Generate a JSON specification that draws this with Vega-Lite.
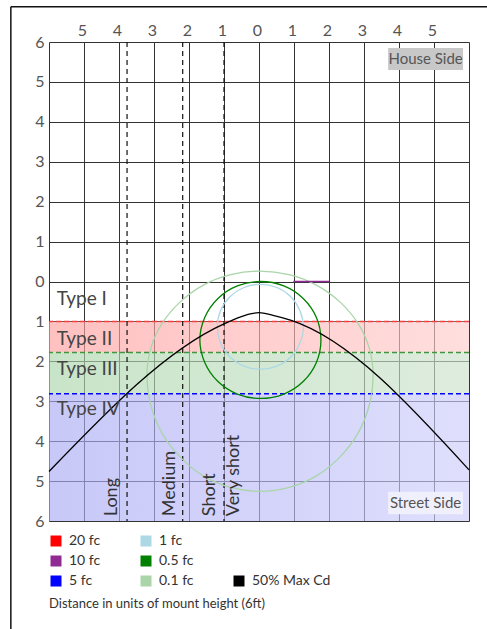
{
  "$schema": "https://vega.github.io/schema/vega-lite/v6.json",
  "width": 420,
  "height": 479,
  "autosize": {"type": "none"},
  "padding": {"left": 49, "top": 42, "right": 18, "bottom": 108},
  "background": "white",
  "config": {
    "view": {"stroke": null},
    "font": "Lato",
    "axis": {"labelFont": "Lato", "labelFontSize": 16, "labelColor": "#555", "ticks": false, "domain": false, "grid": true, "gridColor": "#333", "gridWidth": 1, "gridOpacity": 1, "title": null, "labelOverlap": false},
    "legend": {"labelFont": "Lato", "titleFont": "Lato"}
  },
  "datasets": {
    "frame": [{"x1": -7.09, "x2": 6.9, "y1": 6.88, "y2": -8.9}],
    "bands": [
      {"type": "II", "y1": -1, "y2": -1.78},
      {"type": "III", "y1": -1.78, "y2": -2.81},
      {"type": "IV", "y1": -2.81, "y2": -6}
    ],
    "vdash": [{"x": -1}, {"x": -2.18}, {"x": -3.77}],
    "contours": [
      {"level": "0.1 fc", "i": 0, "x": 0.03, "y": 0.26},
      {"level": "0.1 fc", "i": 1, "x": 0.86, "y": 0.17},
      {"level": "0.1 fc", "i": 2, "x": 1.64, "y": -0.09},
      {"level": "0.1 fc", "i": 3, "x": 2.31, "y": -0.51},
      {"level": "0.1 fc", "i": 4, "x": 2.83, "y": -1.05},
      {"level": "0.1 fc", "i": 5, "x": 3.15, "y": -1.67},
      {"level": "0.1 fc", "i": 6, "x": 3.26, "y": -2.35},
      {"level": "0.1 fc", "i": 7, "x": 3.15, "y": -3.1},
      {"level": "0.1 fc", "i": 8, "x": 2.83, "y": -3.8},
      {"level": "0.1 fc", "i": 9, "x": 2.31, "y": -4.4},
      {"level": "0.1 fc", "i": 10, "x": 1.64, "y": -4.87},
      {"level": "0.1 fc", "i": 11, "x": 0.86, "y": -5.16},
      {"level": "0.1 fc", "i": 12, "x": 0.03, "y": -5.26},
      {"level": "0.1 fc", "i": 13, "x": -0.81, "y": -5.16},
      {"level": "0.1 fc", "i": 14, "x": -1.59, "y": -4.87},
      {"level": "0.1 fc", "i": 15, "x": -2.25, "y": -4.4},
      {"level": "0.1 fc", "i": 16, "x": -2.77, "y": -3.8},
      {"level": "0.1 fc", "i": 17, "x": -3.09, "y": -3.1},
      {"level": "0.1 fc", "i": 18, "x": -3.2, "y": -2.35},
      {"level": "0.1 fc", "i": 19, "x": -3.09, "y": -1.67},
      {"level": "0.1 fc", "i": 20, "x": -2.77, "y": -1.05},
      {"level": "0.1 fc", "i": 21, "x": -2.25, "y": -0.51},
      {"level": "0.1 fc", "i": 22, "x": -1.59, "y": -0.09},
      {"level": "0.1 fc", "i": 23, "x": -0.81, "y": 0.17},
      {"level": "0.5 fc", "i": 0, "x": 0.04, "y": 0},
      {"level": "0.5 fc", "i": 1, "x": 0.71, "y": -0.11},
      {"level": "0.5 fc", "i": 2, "x": 1.27, "y": -0.43},
      {"level": "0.5 fc", "i": 3, "x": 1.64, "y": -0.9},
      {"level": "0.5 fc", "i": 4, "x": 1.77, "y": -1.46},
      {"level": "0.5 fc", "i": 5, "x": 1.64, "y": -2.03},
      {"level": "0.5 fc", "i": 6, "x": 1.27, "y": -2.5},
      {"level": "0.5 fc", "i": 7, "x": 0.71, "y": -2.82},
      {"level": "0.5 fc", "i": 8, "x": 0.04, "y": -2.93},
      {"level": "0.5 fc", "i": 9, "x": -0.62, "y": -2.82},
      {"level": "0.5 fc", "i": 10, "x": -1.18, "y": -2.5},
      {"level": "0.5 fc", "i": 11, "x": -1.55, "y": -2.03},
      {"level": "0.5 fc", "i": 12, "x": -1.69, "y": -1.46},
      {"level": "0.5 fc", "i": 13, "x": -1.55, "y": -0.9},
      {"level": "0.5 fc", "i": 14, "x": -1.18, "y": -0.43},
      {"level": "0.5 fc", "i": 15, "x": -0.62, "y": -0.11},
      {"level": "1 fc", "i": 0, "x": 0.04, "y": -0.07},
      {"level": "1 fc", "i": 1, "x": 0.51, "y": -0.15},
      {"level": "1 fc", "i": 2, "x": 0.91, "y": -0.38},
      {"level": "1 fc", "i": 3, "x": 1.17, "y": -0.73},
      {"level": "1 fc", "i": 4, "x": 1.27, "y": -1.14},
      {"level": "1 fc", "i": 5, "x": 1.17, "y": -1.54},
      {"level": "1 fc", "i": 6, "x": 0.91, "y": -1.89},
      {"level": "1 fc", "i": 7, "x": 0.51, "y": -2.12},
      {"level": "1 fc", "i": 8, "x": 0.04, "y": -2.2},
      {"level": "1 fc", "i": 9, "x": -0.43, "y": -2.12},
      {"level": "1 fc", "i": 10, "x": -0.83, "y": -1.89},
      {"level": "1 fc", "i": 11, "x": -1.1, "y": -1.54},
      {"level": "1 fc", "i": 12, "x": -1.19, "y": -1.14},
      {"level": "1 fc", "i": 13, "x": -1.1, "y": -0.73},
      {"level": "1 fc", "i": 14, "x": -0.83, "y": -0.38},
      {"level": "1 fc", "i": 15, "x": -0.43, "y": -0.15},
      {"level": "10 fc", "i": 0, "x": 0.98, "y": 0},
      {"level": "10 fc", "i": 1, "x": 2.0, "y": 0}
    ],
    "maxcd": [
      {"level": "50% Max Cd", "x": -6, "y": -4.76},
      {"level": "50% Max Cd", "x": -1, "y": -1.06},
      {"level": "50% Max Cd", "x": -0.5, "y": -0.88},
      {"level": "50% Max Cd", "x": -0.25, "y": -0.81},
      {"level": "50% Max Cd", "x": 0, "y": -0.78},
      {"level": "50% Max Cd", "x": 0.4, "y": -0.85},
      {"level": "50% Max Cd", "x": 0.9, "y": -0.97},
      {"level": "50% Max Cd", "x": 6, "y": -4.72}
    ],
    "types": [
      {"label": "Type I", "x": -5.78, "y": -0.44},
      {"label": "Type II", "x": -5.78, "y": -1.45},
      {"label": "Type III", "x": -5.78, "y": -2.18},
      {"label": "Type IV", "x": -5.78, "y": -3.2}
    ],
    "vlabels": [
      {"label": "Long", "x": -3.94, "y": -5.88},
      {"label": "Medium", "x": -2.29, "y": -5.88},
      {"label": "Short", "x": -1.14, "y": -5.88},
      {"label": "Very short", "x": -0.46, "y": -5.88}
    ],
    "sides": [
      {"label": "House Side", "side": "house", "x1": 3.69, "x2": 5.83, "xm": 4.76, "y1": 5.85, "y2": 5.3, "ym": 5.57},
      {"label": "Street Side", "side": "street", "x1": 3.69, "x2": 5.83, "xm": 4.76, "y1": -5.27, "y2": -5.83, "ym": -5.55}
    ]
  },
  "layer": [
    {
      "data": {"name": "bands"},
      "transform": [{"filter": "datum.type == 'II'"}],
      "mark": {"type": "rect", "opacity": 0.65, "color": {"gradient": "linear", "x1": 0, "y1": 0, "x2": 1, "y2": 0, "stops": [{"offset": 0, "color": "#ff9e9e"}, {"offset": 1, "color": "#ffcdcd"}]}},
      "encoding": {
        "x": {"datum": -6, "type": "quantitative", "scale": {"domain": [-6, 6], "nice": false, "zero": false}, "axis": {"orient": "top", "grid": true, "values": [-6, -5, -4, -3, -2, -1, 0, 1, 2, 3, 4, 5, 6], "labelExpr": "abs(datum.value) == 6 ? '' : abs(datum.value)", "labelPadding": 4, "labelOffset": -2}},
        "x2": {"datum": 6},
        "y": {"field": "y1", "type": "quantitative", "scale": {"domain": [-6, 6], "nice": false, "zero": false}, "axis": {"grid": true, "values": [-6, -5, -4, -3, -2, -1, 0, 1, 2, 3, 4, 5, 6], "labelExpr": "abs(datum.value)", "labelPadding": 5}},
        "y2": {"field": "y2"}
      }
    },
    {
      "data": {"name": "bands"},
      "transform": [{"filter": "datum.type == 'III'"}],
      "mark": {"type": "rect", "opacity": 0.65, "color": {"gradient": "linear", "x1": 0, "y1": 0, "x2": 1, "y2": 0, "stops": [{"offset": 0, "color": "#abd6ab"}, {"offset": 1, "color": "#cde2cd"}]}},
      "encoding": {
        "x": {"datum": -6, "type": "quantitative", "scale": {"domain": [-6, 6], "nice": false, "zero": false}, "axis": {"orient": "top", "grid": true, "values": [-6, -5, -4, -3, -2, -1, 0, 1, 2, 3, 4, 5, 6], "labelExpr": "abs(datum.value) == 6 ? '' : abs(datum.value)", "labelPadding": 4, "labelOffset": -2}},
        "x2": {"datum": 6},
        "y": {"field": "y1", "type": "quantitative", "scale": {"domain": [-6, 6], "nice": false, "zero": false}, "axis": {"grid": true, "values": [-6, -5, -4, -3, -2, -1, 0, 1, 2, 3, 4, 5, 6], "labelExpr": "abs(datum.value)", "labelPadding": 5}},
        "y2": {"field": "y2"}
      }
    },
    {
      "data": {"name": "bands"},
      "transform": [{"filter": "datum.type == 'IV'"}],
      "mark": {"type": "rect", "opacity": 0.65, "color": {"gradient": "linear", "x1": 0, "y1": 0, "x2": 1, "y2": 0, "stops": [{"offset": 0, "color": "#ababf5"}, {"offset": 1, "color": "#cdcdfb"}]}},
      "encoding": {
        "x": {"datum": -6, "type": "quantitative", "scale": {"domain": [-6, 6], "nice": false, "zero": false}, "axis": {"orient": "top", "grid": true, "values": [-6, -5, -4, -3, -2, -1, 0, 1, 2, 3, 4, 5, 6], "labelExpr": "abs(datum.value) == 6 ? '' : abs(datum.value)", "labelPadding": 4, "labelOffset": -2}},
        "x2": {"datum": 6},
        "y": {"field": "y1", "type": "quantitative", "scale": {"domain": [-6, 6], "nice": false, "zero": false}, "axis": {"grid": true, "values": [-6, -5, -4, -3, -2, -1, 0, 1, 2, 3, 4, 5, 6], "labelExpr": "abs(datum.value)", "labelPadding": 5}},
        "y2": {"field": "y2"}
      }
    },
    {
      "data": {"name": "bands"},
      "mark": {"type": "rule", "strokeDash": [5, 3], "strokeWidth": 1.5},
      "encoding": {
        "y": {"field": "y1", "type": "quantitative", "scale": {"domain": [-6, 6], "nice": false, "zero": false}, "axis": {"grid": true, "values": [-6, -5, -4, -3, -2, -1, 0, 1, 2, 3, 4, 5, 6], "labelExpr": "abs(datum.value)", "labelPadding": 5}},
        "stroke": {"field": "type", "type": "nominal", "scale": {"domain": ["II", "III", "IV"], "range": ["#f04040", "#3f963f", "#0000ff"]}, "legend": null}
      }
    },
    {
      "data": {"name": "vdash"},
      "mark": {"type": "rule", "strokeDash": [5, 4], "strokeWidth": 1.2, "color": "#111"},
      "encoding": {"x": {"field": "x", "type": "quantitative", "scale": {"domain": [-6, 6], "nice": false, "zero": false}, "axis": {"orient": "top", "grid": true, "values": [-6, -5, -4, -3, -2, -1, 0, 1, 2, 3, 4, 5, 6], "labelExpr": "abs(datum.value) == 6 ? '' : abs(datum.value)", "labelPadding": 4, "labelOffset": -2}}}
    },
    {
      "data": {"name": "contours"},
      "mark": {"type": "line", "interpolate": "cardinal-closed", "strokeWidth": 1.3},
      "encoding": {
        "x": {"field": "x", "type": "quantitative", "scale": {"domain": [-6, 6], "nice": false, "zero": false}, "axis": {"orient": "top", "grid": true, "values": [-6, -5, -4, -3, -2, -1, 0, 1, 2, 3, 4, 5, 6], "labelExpr": "abs(datum.value) == 6 ? '' : abs(datum.value)", "labelPadding": 4, "labelOffset": -2}},
        "y": {"field": "y", "type": "quantitative", "scale": {"domain": [-6, 6], "nice": false, "zero": false}, "axis": {"grid": true, "values": [-6, -5, -4, -3, -2, -1, 0, 1, 2, 3, 4, 5, 6], "labelExpr": "abs(datum.value)", "labelPadding": 5}},
        "order": {"field": "i"},
        "color": {
          "field": "level", "type": "nominal",
          "scale": {
            "domain": ["20 fc", "1 fc", "b1", "10 fc", "0.5 fc", "b2", "5 fc", "0.1 fc", "50% Max Cd"],
            "range": ["#ff0000", "#add8e6", "transparent", "#8f2a92", "#008000", "transparent", "#0000ff", "#a9d5a9", "#000000"]
          },
          "legend": {
            "orient": "bottom", "columns": 3, "columnPadding": 38, "rowPadding": 6, "offset": 13, "padding": 0,
            "title": "Distance in units of mount height (6ft)", "titleOrient": "bottom", "titleAnchor": "start", "titleFontSize": 13, "titleFontWeight": "normal", "titleColor": "#333", "titlePadding": 10, "titleLimit": 400,
            "symbolType": "square", "symbolSize": 121, "symbolStrokeWidth": 0, "labelFontSize": 14, "labelColor": "#333", "labelOffset": 6,
            "labelExpr": "(datum.label == 'b1' || datum.label == 'b2') ? '' : datum.label",
            "encode": {"symbols": {"update": {"fill": {"scale": "color", "field": "value"}, "stroke": {"value": "transparent"}, "opacity": {"value": 1}}}}
          }
        }
      }
    },
    {
      "data": {"name": "maxcd"},
      "mark": {"type": "line", "interpolate": "monotone", "strokeWidth": 1.3},
      "encoding": {
        "x": {"field": "x", "type": "quantitative", "scale": {"domain": [-6, 6], "nice": false, "zero": false}, "axis": {"orient": "top", "grid": true, "values": [-6, -5, -4, -3, -2, -1, 0, 1, 2, 3, 4, 5, 6], "labelExpr": "abs(datum.value) == 6 ? '' : abs(datum.value)", "labelPadding": 4, "labelOffset": -2}},
        "y": {"field": "y", "type": "quantitative", "scale": {"domain": [-6, 6], "nice": false, "zero": false}, "axis": {"grid": true, "values": [-6, -5, -4, -3, -2, -1, 0, 1, 2, 3, 4, 5, 6], "labelExpr": "abs(datum.value)", "labelPadding": 5}},
        "color": {"field": "level", "type": "nominal"}
      }
    },
    {
      "data": {"name": "types"},
      "mark": {"type": "text", "align": "left", "baseline": "middle", "fontSize": 19, "color": "#444", "font": "Lato"},
      "encoding": {
        "x": {"field": "x", "type": "quantitative", "scale": {"domain": [-6, 6], "nice": false, "zero": false}, "axis": {"orient": "top", "grid": true, "values": [-6, -5, -4, -3, -2, -1, 0, 1, 2, 3, 4, 5, 6], "labelExpr": "abs(datum.value) == 6 ? '' : abs(datum.value)", "labelPadding": 4, "labelOffset": -2}},
        "y": {"field": "y", "type": "quantitative", "scale": {"domain": [-6, 6], "nice": false, "zero": false}, "axis": {"grid": true, "values": [-6, -5, -4, -3, -2, -1, 0, 1, 2, 3, 4, 5, 6], "labelExpr": "abs(datum.value)", "labelPadding": 5}},
        "text": {"field": "label"}
      }
    },
    {
      "data": {"name": "vlabels"},
      "mark": {"type": "text", "align": "left", "baseline": "bottom", "angle": 270, "fontSize": 18, "color": "#333", "font": "Lato"},
      "encoding": {
        "x": {"field": "x", "type": "quantitative", "scale": {"domain": [-6, 6], "nice": false, "zero": false}, "axis": {"orient": "top", "grid": true, "values": [-6, -5, -4, -3, -2, -1, 0, 1, 2, 3, 4, 5, 6], "labelExpr": "abs(datum.value) == 6 ? '' : abs(datum.value)", "labelPadding": 4, "labelOffset": -2}},
        "y": {"field": "y", "type": "quantitative", "scale": {"domain": [-6, 6], "nice": false, "zero": false}, "axis": {"grid": true, "values": [-6, -5, -4, -3, -2, -1, 0, 1, 2, 3, 4, 5, 6], "labelExpr": "abs(datum.value)", "labelPadding": 5}},
        "text": {"field": "label"}
      }
    },
    {
      "data": {"name": "sides"},
      "mark": {"type": "rect"},
      "encoding": {
        "x": {"field": "x1", "type": "quantitative", "scale": {"domain": [-6, 6], "nice": false, "zero": false}, "axis": {"orient": "top", "grid": true, "values": [-6, -5, -4, -3, -2, -1, 0, 1, 2, 3, 4, 5, 6], "labelExpr": "abs(datum.value) == 6 ? '' : abs(datum.value)", "labelPadding": 4, "labelOffset": -2}},
        "x2": {"field": "x2"},
        "y": {"field": "y1", "type": "quantitative", "scale": {"domain": [-6, 6], "nice": false, "zero": false}, "axis": {"grid": true, "values": [-6, -5, -4, -3, -2, -1, 0, 1, 2, 3, 4, 5, 6], "labelExpr": "abs(datum.value)", "labelPadding": 5}},
        "y2": {"field": "y2"},
        "fill": {"field": "side", "type": "nominal", "scale": {"domain": ["house", "street"], "range": ["#c8c8c8", "#f0f0fd"]}, "legend": null}
      }
    },
    {
      "data": {"name": "sides"},
      "mark": {"type": "text", "align": "center", "baseline": "middle", "fontSize": 15, "color": "#555", "font": "Lato"},
      "encoding": {
        "x": {"field": "xm", "type": "quantitative", "scale": {"domain": [-6, 6], "nice": false, "zero": false}, "axis": {"orient": "top", "grid": true, "values": [-6, -5, -4, -3, -2, -1, 0, 1, 2, 3, 4, 5, 6], "labelExpr": "abs(datum.value) == 6 ? '' : abs(datum.value)", "labelPadding": 4, "labelOffset": -2}},
        "y": {"field": "ym", "type": "quantitative", "scale": {"domain": [-6, 6], "nice": false, "zero": false}, "axis": {"grid": true, "values": [-6, -5, -4, -3, -2, -1, 0, 1, 2, 3, 4, 5, 6], "labelExpr": "abs(datum.value)", "labelPadding": 5}},
        "text": {"field": "label"}
      }
    },
    {
      "data": {"name": "frame"},
      "mark": {"type": "rule", "stroke": "#111", "strokeWidth": 1.5, "clip": false},
      "encoding": {
        "x": {"field": "x1", "type": "quantitative", "scale": {"domain": [-6, 6], "nice": false, "zero": false}, "axis": {"orient": "top", "grid": true, "values": [-6, -5, -4, -3, -2, -1, 0, 1, 2, 3, 4, 5, 6], "labelExpr": "abs(datum.value) == 6 ? '' : abs(datum.value)", "labelPadding": 4, "labelOffset": -2}},
        "x2": {"field": "x2"},
        "y": {"field": "y1", "type": "quantitative", "scale": {"domain": [-6, 6], "nice": false, "zero": false}, "axis": {"grid": true, "values": [-6, -5, -4, -3, -2, -1, 0, 1, 2, 3, 4, 5, 6], "labelExpr": "abs(datum.value)", "labelPadding": 5}}
      }
    },
    {
      "data": {"name": "frame"},
      "mark": {"type": "rule", "stroke": "#111", "strokeWidth": 1.5, "clip": false},
      "encoding": {
        "x": {"field": "x1", "type": "quantitative", "scale": {"domain": [-6, 6], "nice": false, "zero": false}, "axis": {"orient": "top", "grid": true, "values": [-6, -5, -4, -3, -2, -1, 0, 1, 2, 3, 4, 5, 6], "labelExpr": "abs(datum.value) == 6 ? '' : abs(datum.value)", "labelPadding": 4, "labelOffset": -2}},
        "y": {"field": "y1", "type": "quantitative", "scale": {"domain": [-6, 6], "nice": false, "zero": false}, "axis": {"grid": true, "values": [-6, -5, -4, -3, -2, -1, 0, 1, 2, 3, 4, 5, 6], "labelExpr": "abs(datum.value)", "labelPadding": 5}},
        "y2": {"field": "y2"}
      }
    }
  ]
}
